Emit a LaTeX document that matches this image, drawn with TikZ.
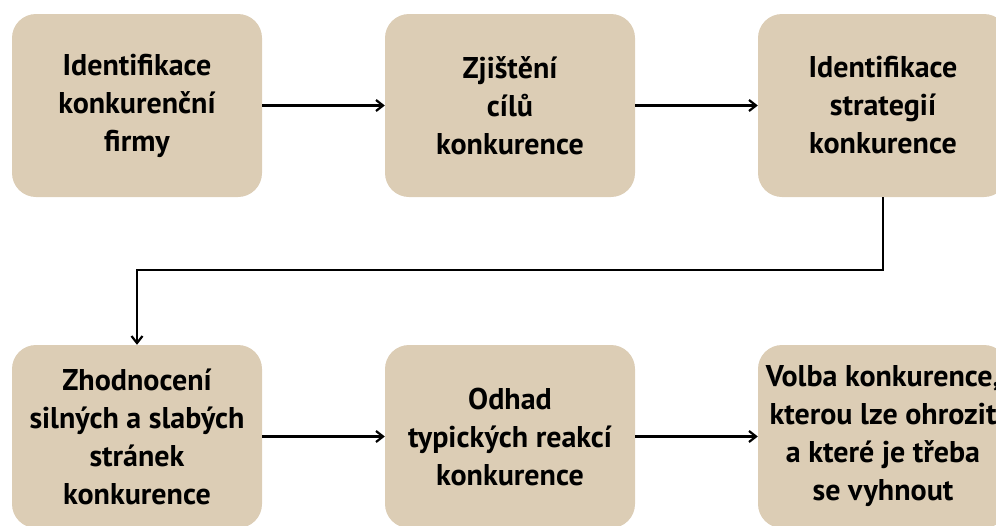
\documentclass[tikz,border=0pt]{standalone}
\usepackage{fontspec}
\setmainfont{PT Sans}
\usetikzlibrary{arrows.meta}
\definecolor{beige}{RGB}{220,205,181}

\begin{document}
\begin{tikzpicture}[x=1pt, y=-1pt,
    stepbox/.style={fill=beige, rounded corners=24pt, minimum width=250pt,
                    minimum height=183pt, align=center, inner sep=0pt,
                    font=\fontsize{30}{38}\selectfont\bfseries},
    link/.style={line width=2.8pt, -{Straight Barb[length=7pt,width=11pt,line width=2.2pt]}}]
    \useasboundingbox (0,0) rectangle (996,525);

    \node[stepbox] (ident)    at (137, 105.5) {Identifikace\\konkurenční\\firmy};
    \node[stepbox] (cile)     at (510, 105.5) {Zjištění\\cílů\\konkurence};
    \node[stepbox] (strateg)  at (883, 105.5) {Identifikace\\strategií\\konkurence};
    \node[stepbox] (zhodnoc)  at (137, 436.5) {Zhodnocení\\silných a slabých\\stránek\\konkurence};
    \node[stepbox] (odhad)    at (510, 436.5) {Odhad\\typických reakcí\\konkurence};
    \node[stepbox] (volba)    at (883, 436.5) {Volba konkurence,\\kterou lze ohrozit\\a které je třeba\\se vyhnout};

    \foreach \a/\b in {ident/cile, cile/strateg, zhodnoc/odhad, odhad/volba}{
        \draw[link] (\a) -- (\b);
    }

    \coordinate (bend) at (883, 270);
    \draw[link] (strateg.south) -- (bend) -| (zhodnoc.north);
\end{tikzpicture}
\end{document}
